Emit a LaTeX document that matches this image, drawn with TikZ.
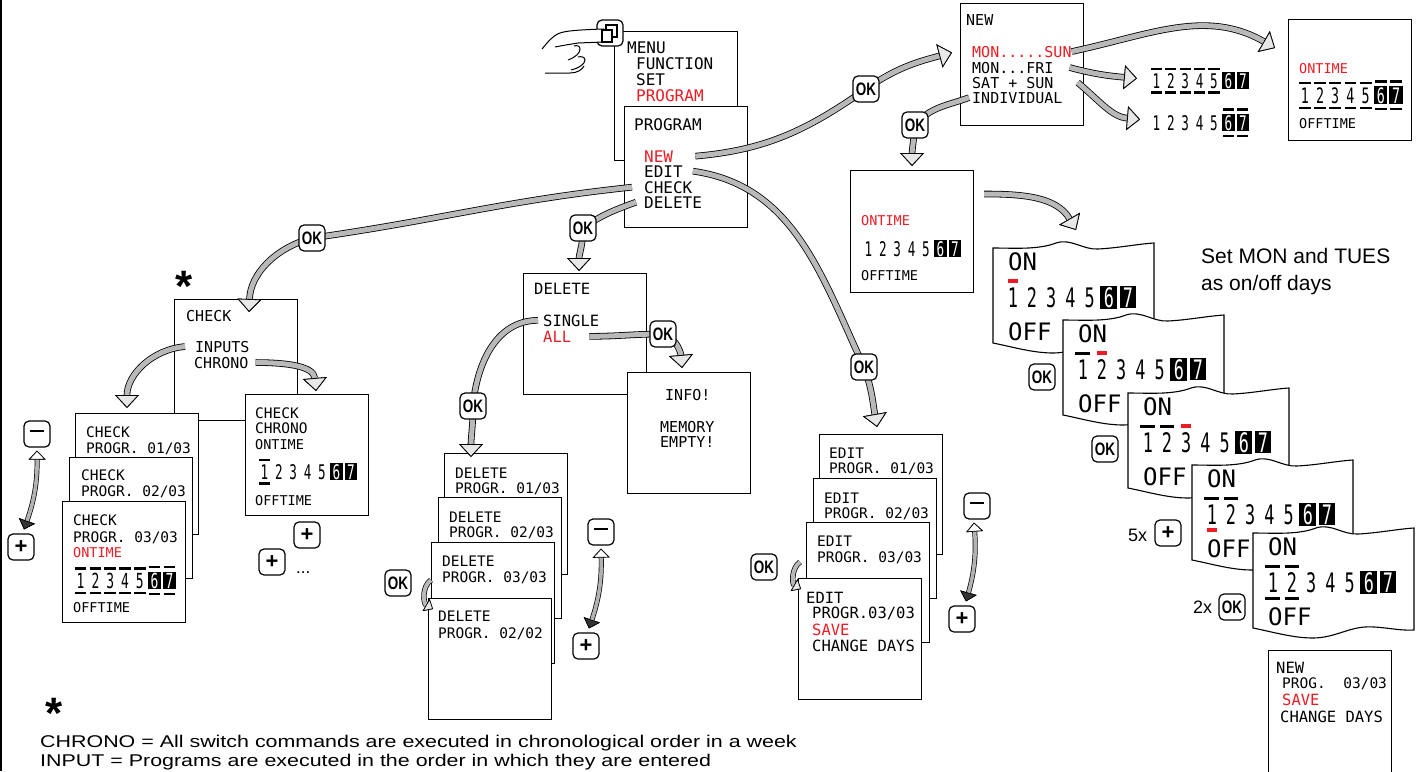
\documentclass[tikz,border=0pt]{standalone}
\usepackage{fontspec}
\usepackage{graphicx}
\usetikzlibrary{arrows.meta}

\setmainfont{Liberation Sans}
\newfontfamily\lcdfont{DejaVu Sans Mono}
\definecolor{lcdred}{RGB}{237,28,36}

% day digits: top mark, digit, bottom mark (k = black, r = red, n = none)
\newcommand\dmk[1]{\ifx#1k\rule{0.62em}{0.13em}\fi\ifx#1r\textcolor{lcdred}{\rule{0.4em}{0.16em}}\fi}
\newcommand\dgt[1]{\scalebox{0.7}[1.12]{#1}}
\newcommand\dg[3]{\makebox[0.8em]{\ooalign{\hfil\dgt{#2}\hfil\cr
  \hfil\raisebox{1em}{\dmk#1}\hfil\cr\hfil\raisebox{-0.32em}{\dmk#3}\hfil\cr}}}
\newcommand\dgi[3]{\makebox[0.8em]{\ooalign{\hfil{\fboxsep=0.06em\colorbox{black}{\makebox[0.58em]{\textcolor{white}{\dgt{#2}}}}}\hfil\cr
  \hfil\raisebox{1.07em}{\dmk#1}\hfil\cr\hfil\raisebox{-0.38em}{\dmk#3}\hfil\cr}}}
\newcommand\wkend{\dgi n6n\dgi n7n}
\newcommand\okkey{\scalebox{0.75}[1]{OK}}
\newcommand\pluskey{{\fontsize{22}{22}\selectfont +}}
\newcommand\minuskey{\rule[0.33em]{0.75em}{0.16em}}
\newcommand\wide[1]{\scalebox{1.26}[1]{#1}}

% one ON/OFF screen with wavy edges
\newcommand\onscreen[3]{%
  \begin{scope}[shift={(#2)}]
    \pic {wave};
    \coordinate (#1) at (0,0);
    \node[lcd=24] (#1-on)  at (15,25) {ON};
    \node[lcd=24] (#1-row) at (10,62) {#3};
    \node[lcd=24] (#1-off) at (15,95) {OFF};
  \end{scope}}

\begin{document}
\begin{tikzpicture} [
    x=1pt, y=-1pt,
    screen/.style = { draw, fill=white, line width=1.1pt, anchor=north west,
                      minimum width=123pt, minimum height=121pt, inner sep=0pt },
    lcd/.style    = { anchor=base west, inner sep=0pt,
                      font=\lcdfont\fontsize{#1}{#1}\selectfont },
    lcd/.default  = 15,
    hl/.style     = { text=lcdred },
    note/.style   = { anchor=base west, inner sep=0pt,
                      font=\fontsize{#1}{#1}\selectfont },
    key/.style    = { draw, fill=white, line width=1.2pt, rounded corners=5pt,
                      minimum width=26pt, minimum height=26pt, inner sep=0pt,
                      font=\bfseries\fontsize{18}{18}\selectfont },
    fat/.style    = { line width=5pt, draw=gray!55,
                      -{Triangle[length=13pt, width=24pt, line width=0.8pt, color=black, fill=gray!18]},
                      preaction={draw=black, line width=6.6pt,
                      -{Triangle[length=13pt, width=24pt, line width=0.8pt, color=black, fill=gray!18]}} },
    bent/.style   = { line width=4pt, draw=gray!55,
                      -{Triangle[length=8pt, width=14pt, line width=0.7pt, color=black, fill=gray!18]},
                      preaction={draw=black, line width=5.4pt,
                      -{Triangle[length=8pt, width=14pt, line width=0.7pt, color=black, fill=gray!18]}} },
    updown/.style = { line width=3.6pt, draw=gray!60,
                      {Triangle[length=9pt, width=17pt, line width=0.7pt, color=black, fill=white]}-{Triangle[length=9pt, width=17pt, line width=0.7pt, color=black, fill=gray!40!black]},
                      preaction={draw=black, line width=5pt,
                      {Triangle[length=9pt, width=17pt, line width=0.7pt, color=black, fill=white]}-{Triangle[length=9pt, width=17pt, line width=0.7pt, color=black, fill=gray!40!black]}} },
    wave/.pic     = { \draw[fill=white, line width=1.1pt]
                        (0,3) .. controls (20,3) and (45,5) .. (63,-2)
                        .. controls (78,-7) and (90,5) .. (105,4)
                        .. controls (125,3) and (145,-1) .. (161,-2)
                        -- (161,100) .. controls (145,101) and (128,96) .. (112,97)
                        .. controls (95,98) and (80,108) .. (60,108)
                        .. controls (40,108) and (20,102) .. (0,98) -- cycle; },
  ]

  \useasboundingbox (0,0) rectangle (1418,771);
  \draw[line width=1.5pt] (1.2,0) -- (1.2,771);

  % Define screens
  \node[screen, minimum height=129pt] (menu) at (614,31) {};
  \node[lcd=16] (m-menu) at (627,53) {MENU};
  \node[lcd=16] (m-func) at (636,69) {FUNCTION};
  \node[lcd=16] (m-set)  at (636,85) {SET};
  \node[lcd=16, hl] (m-prog) at (636,101) {PROGRAM};

  \node[screen] (prog) at (624,106) {};
  \node[lcd=16] (p-title) at (634,130) {PROGRAM};
  \node[lcd=16, hl] (p-new) at (644,162) {NEW};
  \node[lcd=16] (p-edit)  at (644,177) {EDIT};
  \node[lcd=16] (p-check) at (644,193) {CHECK};
  \node[lcd=16] (p-del)   at (644,208) {DELETE};

  \node[screen, minimum height=122pt] (nbox) at (960,3) {};
  \node[lcd] (n-title)  at (966,25) {NEW};
  \node[lcd, hl] (n-monsun) at (972,57) {MON.....SUN};
  \node[lcd] (n-monfri) at (972,73) {MON...FRI};
  \node[lcd] (n-satsun) at (972,88) {SAT + SUN};
  \node[lcd] (n-ind)    at (972,103) {INDIVIDUAL};

  \node[lcd=18] (r1) at (1149,88)  {\dg k1k\dg k2k\dg k3k\dg k4k\dg k5k\wkend};
  \node[lcd=18] (r2) at (1149,130) {\dg n1n\dg n2n\dg n3n\dg n4n\dg n5n\dgi k6k\dgi k7k};

  \node[screen] (tr) at (1288,19) {};
  \node[lcd=13.5, hl] (t-on) at (1299,73) {ONTIME};
  \node[lcd=19] (t-row) at (1297,103) {\dg k1k\dg k2k\dg k3k\dg k4k\dg k5k\dgi k6k\dgi k7k};
  \node[lcd=13.5] (t-off) at (1299,128) {OFFTIME};

  \node[screen, minimum height=122pt] (mid) at (850,170) {};
  \node[lcd=13.5, hl] (i-on) at (861,225) {ONTIME};
  \node[lcd=18] (i-row) at (861,256) {\dg n1n\dg n2n\dg n3n\dg n4n\dg n5n\wkend};
  \node[lcd=13.5] (i-off) at (861,280) {OFFTIME};

  % check branch
  \node[screen] (chk) at (174,299) {};
  \node[lcd] (c-title)  at (186,321) {CHECK};
  \node[lcd] (c-inputs) at (195,352) {INPUTS};
  \node[lcd] (c-chrono) at (194,368) {CHRONO};
  \node[inner sep=0pt, anchor=base, font=\bfseries\fontsize{44}{44}\selectfont] (star-chk) at (184,301) {*};

  \node[screen] (ckA) at (75,413) {};
  \node[lcd=14.5] (ckA-1) at (86,437) {CHECK};
  \node[lcd=14.5] (ckA-2) at (86,453) {PROGR. 01/03};
  \node[screen] (ckB) at (69,457) {};
  \node[lcd=14.5] (ckB-1) at (81,480) {CHECK};
  \node[lcd=14.5] (ckB-2) at (81,496) {PROGR. 02/03};
  \node[screen] (ckC) at (62,501) {};
  \node[lcd=14.5] (ckC-1) at (73,525) {CHECK};
  \node[lcd=14.5] (ckC-2) at (73,542) {PROGR. 03/03};
  \node[lcd=13.5, hl] (ckC-on) at (73,557) {ONTIME};
  \node[lcd=18.5] (ckC-row) at (73,588) {\dg k1k\dg k2k\dg k3k\dg k4k\dg k5k\dgi k6k\dgi k7k};
  \node[lcd=13.5] (ckC-off) at (73,612) {OFFTIME};

  \node[screen] (chr) at (245,394) {};
  \node[lcd=14.5] (chr-1) at (255,418) {CHECK};
  \node[lcd=14.5] (chr-2) at (255,433) {CHRONO};
  \node[lcd=13.5] (chr-on) at (255,449) {ONTIME};
  \node[lcd=18] (chr-row) at (257,479) {\dg k1k\dg n2n\dg n3n\dg n4n\dg n5n\wkend};
  \node[lcd=13.5] (chr-off) at (255,505) {OFFTIME};

  % delete branch
  \node[screen] (del) at (523,273) {};
  \node[lcd=15.5] (d-title)  at (534,294) {DELETE};
  \node[lcd=15.5] (d-single) at (543,326) {SINGLE};
  \node[lcd=15.5, hl] (d-all) at (543,342) {ALL};

  \node[screen] (info) at (627,372) {};
  \node[lcd] (info-1) at (665,400) {INFO!};
  \node[lcd] (info-2) at (660,432) {MEMORY};
  \node[lcd] (info-3) at (660,447) {EMPTY!};

  \node[screen] (dA) at (444,453) {};
  \node[lcd=14.5] (dA-1) at (455,478) {DELETE};
  \node[lcd=14.5] (dA-2) at (455,493) {PROGR. 01/03};
  \node[screen] (dB) at (438,497) {};
  \node[lcd=14.5] (dB-1) at (449,522) {DELETE};
  \node[lcd=14.5] (dB-2) at (449,537) {PROGR. 02/03};
  \node[screen] (dC) at (431,542) {};
  \node[lcd=14.5] (dC-1) at (442,566) {DELETE};
  \node[lcd=14.5] (dC-2) at (442,582) {PROGR. 03/03};
  \node[screen] (dD) at (428,598) {};
  \node[lcd=14.5] (dD-1) at (438,621) {DELETE};
  \node[lcd=14.5] (dD-2) at (438,638) {PROGR. 02/02};

  % edit branch
  \node[screen, minimum height=120pt] (edA) at (819,434) {};
  \node[lcd=14.5] (edA-1) at (829,458) {EDIT};
  \node[lcd=14.5] (edA-2) at (829,473) {PROGR. 01/03};
  \node[screen, minimum height=120pt] (edB) at (813,478) {};
  \node[lcd=14.5] (edB-1) at (824,503) {EDIT};
  \node[lcd=14.5] (edB-2) at (824,518) {PROGR. 02/03};
  \node[screen, minimum height=120pt] (edC) at (806,522) {};
  \node[lcd=14.5] (edC-1) at (817,546) {EDIT};
  \node[lcd=14.5] (edC-2) at (817,562) {PROGR. 03/03};
  \node[screen] (edD) at (798,578) {};
  \node[lcd=15.5] (edD-1) at (806,603) {EDIT};
  \node[lcd=15.5] (edD-2) at (812,618) {PROGR.03/03};
  \node[lcd=15.5, hl] (edD-3) at (812,635) {SAVE};
  \node[lcd=15.5] (edD-4) at (812,651) {CHANGE DAYS};

  % on/off days
  \onscreen{on1}{993,245}{\dg r1n\dg n2n\dg n3n\dg n4n\dg n5n\wkend}
  \onscreen{on2}{1063,317}{\dg k1n\dg r2n\dg n3n\dg n4n\dg n5n\wkend}
  \onscreen{on3}{1128,390}{\dg k1n\dg k2n\dg r3n\dg n4n\dg n5n\wkend}
  \onscreen{on4}{1192,462}{\dg k1r\dg k2n\dg n3n\dg n4n\dg n5n\wkend}
  \onscreen{on5}{1253,530}{\dg k1k\dg k2k\dg n3n\dg n4n\dg n5n\wkend}

  \node[screen, minimum height=130pt] (newp) at (1268,650) {};
  \node[lcd=15.5] (newp-1) at (1276,673) {NEW};
  \node[lcd=14.5] (newp-2) at (1282,688) {PROG.\ \ 03/03};
  \node[lcd=15.5, hl] (newp-3) at (1282,705) {SAVE};
  \node[lcd=15.5] (newp-4) at (1280,722) {CHANGE DAYS};

  % notes
  \node[note=21] (set-1) at (1201,263) {Set MON and TUES};
  \node[note=21] (set-2) at (1201,290) {as on/off days};
  \node[note=18] (times5) at (1128,541) {5x};
  \node[note=18] (times2) at (1193,613) {2x};
  \node[note=17] (more) at (296,573) {...};
  \node[inner sep=0pt, anchor=base, font=\bfseries\fontsize{44}{44}\selectfont] (star-note) at (54,728) {*};
  \node[note=17] (note-chrono) at (40,747) {\wide{CHRONO = All switch commands are executed in chronological order in a week}};
  \node[note=17] (note-input)  at (40,766) {\wide{INPUT = Programs are executed in the order in which they are entered}};

  % key positions
  \coordinate (k-new)    at (866,89);
  \coordinate (k-ind)    at (915,125);
  \coordinate (k-chk)    at (312,238);
  \coordinate (k-del)    at (583,228);
  \coordinate (k-edit)   at (864,367);
  \coordinate (k-single) at (473,406);
  \coordinate (k-all)    at (663,334);

  % connect the screens
  \draw[fat] ([xshift=22pt]p-new.east) to[out=5, in=215] (k-new)
             to[out=35, in=195] ([xshift=-8pt,yshift=12pt]nbox.west);
  \draw[fat] ([xshift=-3pt]n-ind.west) to[out=200, in=50] (k-ind)
             to[out=-95, in=90] ([yshift=4pt]mid.north);
  \draw[fat] ([xshift=-12pt]p-check.west) to[out=186, in=8] (k-chk)
             to[out=195, in=88] ([xshift=13pt,yshift=-13pt]chk.north);
  \draw[fat] ([xshift=-8pt]p-del.west) to[out=200, in=35] (k-del)
             to[out=-90, in=90] ([xshift=-6pt,yshift=2pt]del.north);
  \draw[fat] ([xshift=10pt]p-edit.east) to[out=-8, in=115] (k-edit)
             to[out=-70, in=100] ([xshift=-4pt,yshift=7pt]edA.north);
  \draw[fat] ([xshift=-5pt]d-single.west) to[out=180, in=85] (k-single)
             to[out=-90, in=90] ([xshift=27pt,yshift=-4pt]dA.north west);
  \draw[fat] ([xshift=18pt]d-all.east) to[out=0, in=180] (k-all)
             to[out=-20, in=95] ([xshift=-7pt,yshift=4pt]info.north);
  \draw[fat] ([xshift=-10pt]c-inputs.west) to[out=185, in=90] ([xshift=52pt,yshift=5pt]ckA.north west);
  \draw[fat] ([xshift=7pt]c-chrono.east) to[out=0, in=95] ([xshift=71pt,yshift=3pt]chr.north west);
  \draw[fat] ([xshift=10pt,yshift=-24pt]mid.north east) to[out=0, in=120] ([xshift=83pt,yshift=15pt]on1);
  \draw[fat] (n-monsun.east) to[out=12, in=150] ([xshift=-13pt,yshift=-29pt]tr.north west);
  \draw[fat] ([xshift=16pt]n-monfri.east) to[out=-15, in=175] ([xshift=-12pt,yshift=5pt]r1.west);
  \draw[fat] ([xshift=24pt]n-satsun.east) to[out=-40, in=175] ([xshift=-9pt,yshift=6pt]r2.west);
  \draw[bent] ([yshift=-38pt]dC.north west) to[out=215, in=150] ([xshift=5pt,yshift=-11pt]dD.north west);
  \draw[bent] ([xshift=-6pt,yshift=-40pt]edC.north west) to[out=215, in=150] ([xshift=3pt,yshift=-11pt]edD.north west);

  % keys
  \node[key] (ok-new)    at (k-new)    {\okkey};
  \node[key] (ok-ind)    at (k-ind)    {\okkey};
  \node[key] (ok-chk)    at (k-chk)    {\okkey};
  \node[key] (ok-del)    at (k-del)    {\okkey};
  \node[key] (ok-edit)   at (k-edit)   {\okkey};
  \node[key] (ok-single) at (k-single) {\okkey};
  \node[key] (ok-all)    at (k-all)    {\okkey};
  \node[key] (ok-del2)   at (398,583)  {\okkey};
  \node[key] (ok-ed2)    at (764,567)  {\okkey};
  \node[key] (ok-a)      at (1042,377) {\okkey};
  \node[key] (ok-b)      at (1105,449) {\okkey};
  \node[key] (plus-5)    at (1168,533) {\pluskey};
  \node[key] (ok-c)      at (1232,607) {\okkey};
  \node[key] (plus-c1)   at (307,535)  {\pluskey};
  \node[key] (plus-c2)   at (272,562)  {\pluskey};
  \node[key] (minus1)    at (37,434)   {\minuskey};
  \node[key] (plus1)     at (21,547)   {\pluskey};
  \node[key] (minus2)    at (601,532)  {\minuskey};
  \node[key] (plus2)     at (586,646)  {\pluskey};
  \node[key] (minus3)    at (977,506)  {\minuskey};
  \node[key] (plus3)     at (962,619)  {\pluskey};

  \draw[updown] ([yshift=-3pt]minus1.south) to[bend left=10] ([xshift=3pt,yshift=4pt]plus1.north);
  \draw[updown] ([yshift=-3pt]minus2.south) to[bend left=10] ([xshift=3pt,yshift=4pt]plus2.north);
  \draw[updown] ([xshift=-3pt,yshift=-3pt]minus3.south) to[bend left=10] ([xshift=4pt,yshift=4pt]plus3.north);

  % hand on the menu key
  \node[key] (menu-key) at (610,33) {};
  \draw[line width=1pt, fill=white] (542,49) .. controls (548,42) and (552,36) .. (560,33)
        .. controls (566,31) and (575,30) .. (603,29)
        .. controls (609,29) and (609,42) .. (603,42) -- (578,43);
  \draw[line width=1pt] (555,47) .. controls (565,45) and (572,44) .. (578,43);
  \draw[line width=1pt] (568,60) .. controls (576,57) and (580,53) .. (580,49)
        .. controls (580,46) and (577,45) .. (574,46);
  \draw[line width=1pt] (571,70) .. controls (579,68) and (585,64) .. (585,60)
        .. controls (585,57) and (581,56) .. (578,57);
  \draw[line width=1pt] (545,73) -- (570,73) .. controls (577,73) and (582,70) .. (584,66);
  \draw[line width=1.2pt, fill=white] (606,25) rectangle (617,37);
  \draw[line width=1.2pt, fill=white] (602,30) rectangle (612,42);
\end{tikzpicture}
\end{document}
